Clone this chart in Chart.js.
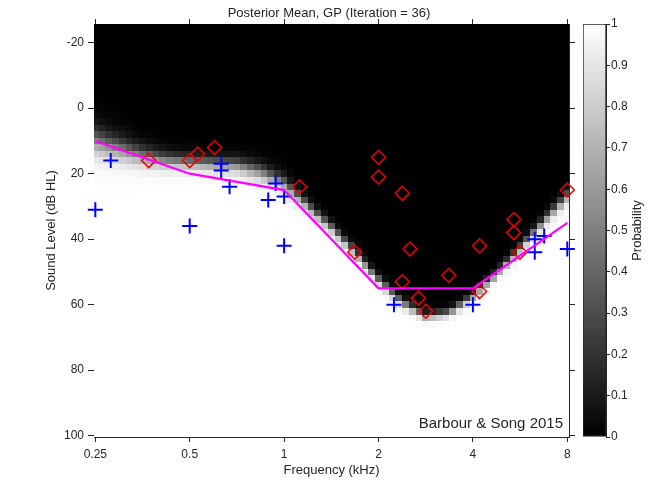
<!DOCTYPE html>
<html>
<head>
<meta charset="utf-8">
<script src="https://cdn.jsdelivr.net/npm/chart.js@4"></script>
<style>
  html, body { margin: 0; padding: 0; background: #fff; }
  #wrap { position: relative; width: 658px; height: 482px; }
  #main { position: absolute; left: 0; top: 0; }
  #bar { position: absolute; left: 575px; top: 0; }
</style>
</head>
<body>
<div id="wrap">
  <canvas id="main" width="658" height="482"></canvas>
  <canvas id="bar" width="83" height="482"></canvas>
</div>
<script>
const FONT = "'Liberation Sans', Arial, Helvetica, sans-serif";
const INK = '#262626';

const xTicks = [0.25, 0.5, 1, 2, 4, 8];
const yTicks = [-20, 0, 20, 40, 60, 80, 100];
const cbTicks = [0, 0.1, 0.2, 0.3, 0.4, 0.5, 0.6, 0.7, 0.8, 0.9, 1];

// magenta threshold line
const lineFreq = [0.25, 0.5, 1, 2, 4, 8];
const lineDb = [10, 20, 25, 55, 55, 35];

// tones heard (blue +)
const heardFreq = [0.25, 0.28, 0.5, 0.63, 0.63, 0.67, 0.89, 0.94, 1.0, 1.0, 2.24, 4.0, 6.3, 6.75, 6.3, 8.0];
const heardDb   = [31, 16, 36, 17, 19, 24, 28, 23, 27, 42, 60, 60, 40, 39, 44, 43];

// tones not heard (red diamonds)
const missFreq = [0.37, 0.5, 0.53, 0.6, 1.12, 1.68, 2.0, 2.0, 2.38, 2.38, 2.52, 2.68, 2.83, 3.35, 4.2, 4.2, 5.4, 5.4, 5.65, 8.0];
const missDb   = [16, 16, 14, 12, 24, 44, 15, 21, 26, 53, 43, 58, 62, 51, 42, 56, 34, 38, 44, 25];

// posterior mean: 50% level and edge softness, read at quarter octaves
const gridFreq   = [0.25, 0.3, 0.35, 0.42, 0.5, 0.59, 0.71, 0.84, 1, 1.19, 1.41, 1.68, 2, 2.38, 2.83, 3.36, 4, 4.76, 5.66, 6.73, 8];
const gridMid    = [10, 12.5, 14.5, 16, 16.5, 17, 17.5, 19.5, 23, 30, 36.5, 44, 52.5, 59.5, 63.5, 62.5, 57.5, 50.5, 43, 34.5, 27];
const gridSpread = [2.6, 2.2, 1.8, 1.5, 1.3, 1.3, 1.4, 1.5, 1.4, 1.1, 1.0, 0.9, 0.9, 0.8, 0.7, 0.7, 0.8, 0.8, 0.9, 1.0, 1.1];

function lookup(f, arr) {
  const l = Math.log2(f);
  if (f <= gridFreq[0]) return arr[0];
  for (let i = 1; i < gridFreq.length; i++) {
    if (f <= gridFreq[i]) {
      const a = Math.log2(gridFreq[i - 1]), b = Math.log2(gridFreq[i]);
      const t = (l - a) / (b - a);
      return arr[i - 1] + t * (arr[i] - arr[i - 1]);
    }
  }
  return arr[arr.length - 1];
}

const heatmap = {
  id: 'heatmap',
  beforeDatasetsDraw(chart) {
    const { ctx, chartArea: a, scales: { x, y } } = chart;
    ctx.save();
    ctx.beginPath();
    ctx.rect(a.left, a.top, a.right - a.left, a.bottom - a.top);
    ctx.clip();
    const cols = 14; // cells per octave
    for (let i = -1; i <= 5 * cols + 1; i++) {
      const c = -2 + i / cols;
      const px0 = Math.round(x.getPixelForValue(Math.pow(2, c - 0.5 / cols)));
      const px1 = Math.round(x.getPixelForValue(Math.pow(2, c + 0.5 / cols)));
      const fc = Math.pow(2, c);
      const mid = lookup(fc, gridMid), s = lookup(fc, gridSpread);
      for (let db = -26; db <= 102; db += 2) {
        const p = 1 / (1 + Math.exp(-(db - mid) / s));
        const g = Math.round(255 * p);
        ctx.fillStyle = 'rgb(' + g + ',' + g + ',' + g + ')';
        const py0 = Math.round(y.getPixelForValue(db - 1));
        const py1 = Math.round(y.getPixelForValue(db + 1));
        ctx.fillRect(px0, py0, px1 - px0, py1 - py0);
      }
    }
    ctx.restore();
  },
  afterDatasetsDraw(chart) {
    const { ctx, chartArea: a } = chart;
    ctx.save();
    ctx.font = '15px ' + FONT;
    ctx.fillStyle = INK;
    ctx.textAlign = 'right';
    ctx.textBaseline = 'alphabetic';
    ctx.fillText('Barbour & Song 2015', a.right - 6, a.bottom - 9);
    ctx.restore();
  }
};

const fixTicks = list => s => { s.ticks = list.map(v => ({ value: v })); };
const axisGrid = len => ({ drawOnChartArea: false, drawTicks: true, tickLength: len, color: INK });

new Chart(document.getElementById('main'), {
  type: 'scatter',
  data: {
    datasets: [
      {
        data: lineFreq.map((f, i) => ({ x: f, y: lineDb[i] })),
        showLine: true, borderColor: '#ff00ff', borderWidth: 2.2, pointRadius: 0, clip: false
      },
      {
        data: missFreq.map((f, i) => ({ x: f, y: missDb[i] })),
        pointStyle: 'rectRot', pointRadius: 7, borderColor: '#ee0000', borderWidth: 1.5,
        backgroundColor: 'rgba(0,0,0,0)', clip: false
      },
      {
        data: heardFreq.map((f, i) => ({ x: f, y: heardDb[i] })),
        pointStyle: 'cross', pointRadius: 7.5, borderColor: '#0000ff', borderWidth: 2,
        backgroundColor: '#0000ff', clip: false
      }
    ]
  },
  options: {
    responsive: false,
    animation: false,
    layout: { padding: 0 },
    plugins: {
      legend: { display: false },
      tooltip: { enabled: false },
      title: {
        display: true, text: 'Posterior Mean, GP (Iteration = 36)', color: INK,
        font: { family: FONT, size: 13, weight: 'normal' }, padding: { top: 6, bottom: 0 }
      }
    },
    scales: {
      x: {
        type: 'logarithmic', position: 'bottom', min: 0.2476, max: 8.1,
        afterBuildTicks: fixTicks(xTicks),
        afterFit: s => { s.height = 45; },
        ticks: { font: { family: FONT, size: 12 }, color: INK, padding: 5, maxRotation: 0, autoSkip: false, callback: v => String(v) },
        grid: axisGrid(5), border: { color: INK },
        title: { display: true, text: 'Frequency (kHz)', color: INK, font: { family: FONT, size: 13 }, padding: { bottom: 4 } }
      },
      x2: {
        type: 'logarithmic', position: 'top', min: 0.2476, max: 8.1,
        afterBuildTicks: fixTicks(xTicks),
        afterFit: s => { s.height = 2.4; },
        ticks: { display: false },
        grid: axisGrid(5), border: { color: INK }
      },
      y: {
        type: 'linear', position: 'left', reverse: true, min: -25.7, max: 100.4,
        afterBuildTicks: fixTicks(yTicks),
        afterFit: s => { s.width = 94; },
        ticks: { font: { family: FONT, size: 12 }, color: INK, padding: 4 },
        grid: axisGrid(6), border: { color: INK },
        title: { display: true, text: 'Sound Level (dB HL)', color: INK, font: { family: FONT, size: 13 }, padding: { top: 44 } }
      },
      y2: {
        type: 'linear', position: 'right', reverse: true, min: -25.7, max: 100.4,
        afterBuildTicks: fixTicks(yTicks),
        afterFit: s => { s.width = 89; },
        ticks: { display: false },
        grid: axisGrid(6), border: { color: INK }
      }
    }
  },
  plugins: [heatmap]
});

// colour bar
const cbLabel = {
  id: 'cbLabel',
  afterDraw(chart) {
    const { ctx, chartArea: a } = chart;
    ctx.save();
    ctx.font = '13px ' + FONT;
    ctx.fillStyle = INK;
    ctx.textAlign = 'center';
    ctx.textBaseline = 'middle';
    ctx.translate(62, (a.top + a.bottom) / 2);
    ctx.rotate(-Math.PI / 2);
    ctx.fillText('Probability', 0, 0);
    ctx.restore();
  }
};

new Chart(document.getElementById('bar'), {
  type: 'bar',
  data: {
    labels: ['p'],
    datasets: [{
      data: [[0, 1]],
      backgroundColor: context => {
        const { ctx, chartArea } = context.chart;
        if (!chartArea) return '#808080';
        const g = ctx.createLinearGradient(0, chartArea.bottom, 0, chartArea.top);
        g.addColorStop(0, '#000000');
        g.addColorStop(1, '#ffffff');
        return g;
      },
      borderColor: INK, borderWidth: 1, borderSkipped: false,
      categoryPercentage: 1, barPercentage: 1
    }]
  },
  options: {
    responsive: false,
    animation: false,
    layout: { padding: { left: 8, top: 24, bottom: 45, right: 0 } },
    plugins: { legend: { display: false }, tooltip: { enabled: false } },
    scales: {
      x: { display: false },
      y: {
        position: 'right', min: 0, max: 1,
        afterBuildTicks: fixTicks(cbTicks),
        afterFit: s => { s.width = 52; },
        ticks: { font: { family: FONT, size: 12 }, color: INK, padding: 1, callback: v => String(+v.toFixed(1)) },
        grid: axisGrid(4), border: { color: INK }
      }
    }
  },
  plugins: [cbLabel]
});
</script>
</body>
</html>
